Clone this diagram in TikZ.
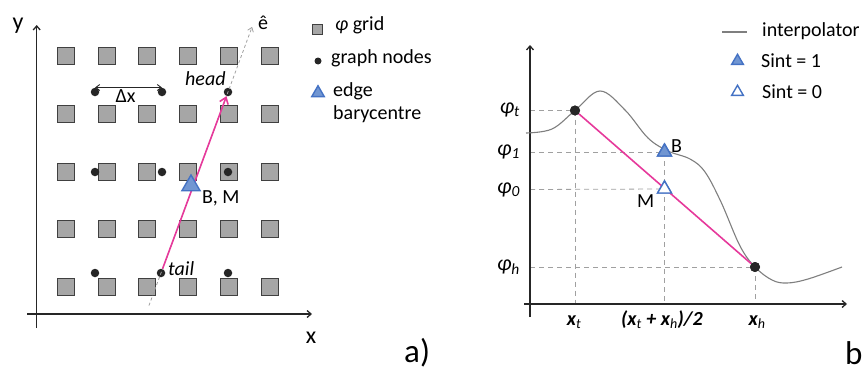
\documentclass[tikz,border=0pt]{standalone}
\usepackage{fontspec}
\setmainfont{Carlito}
\usetikzlibrary{shapes.geometric,arrows.meta,calc}
\definecolor{gridfill}{HTML}{A6A6A6}
\definecolor{gridedge}{HTML}{404040}
\definecolor{dotc}{HTML}{262626}
\definecolor{mag}{HTML}{E6399B}
\definecolor{trifill}{HTML}{7196D2}
\definecolor{triedge}{HTML}{4472C4}
\definecolor{guide}{HTML}{A0A0A0}
\definecolor{curvec}{HTML}{7F7F7F}
\tikzset{
  gsq/.style={draw=gridedge, fill=gridfill, line width=0.9pt, minimum size=17.5pt, inner sep=0pt},
  gdot/.style={circle, fill=dotc, minimum size=8.5pt, inner sep=0pt},
  bdot/.style={circle, fill=dotc, minimum size=10pt, inner sep=0pt},
  tri/.style={regular polygon, regular polygon sides=3, draw=triedge, line width=1.4pt, inner sep=0pt},
  trifull/.style={tri, fill=trifill},
  triopen/.style={tri, fill=white},
  axisline/.style={draw=dotc, line width=1.3pt, -{Straight Barb[length=4pt,width=7pt]}},
  lbl/.style={font=\fontsize{20}{24}\selectfont, inner sep=0pt, text=black},
  philbl/.style={font=\fontsize{22}{26}\selectfont\itshape, inner sep=0pt, anchor=east},
  xlbl/.style={font=\fontsize{20}{24}\selectfont\bfseries\itshape, inner sep=0pt, anchor=base},
  biglbl/.style={font=\fontsize{33}{38}\selectfont, inner sep=0pt, anchor=base west},
  guideline/.style={draw=guide, line width=0.8pt, dash pattern=on 5pt off 4pt},
  magline/.style={draw=mag, line width=1.6pt},
}
\begin{document}
\begin{tikzpicture}[x=1pt,y=-1pt]
\useasboundingbox (0,0) rectangle (866,372);
% ---------------- panel a ----------------
\coordinate (ax0) at (27,314);
\coordinate (ax1) at (312,314);
\coordinate (ay0) at (36.7,328);
\coordinate (ay1) at (36.7,25);
\draw[axisline] (ax0) -- (ax1);
\draw[axisline] (ay0) -- (ay1);
\node[lbl, font=\fontsize{24}{28}\selectfont, anchor=base] (ylab) at (18,29) {y};
\node[lbl, font=\fontsize{24}{28}\selectfont, anchor=base] (xlab) at (311,343) {x};
\node[biglbl] (alab) at (404,362) {a)};
% grid
\foreach \c [count=\i] in {66,107,147,188,229,270}
  \foreach \r [count=\j] in {56,114,172,229,287}
    \node[gsq] (g\i\j) at (\c,\r) {};
% graph nodes
\node[gdot] (n1) at (95,92) {};
\node[gdot] (n2) at (162,92) {};
\node[gdot] (head) at (228,92) {};
\node[gdot] (n4) at (95,172) {};
\node[gdot] (n5) at (162,172) {};
\node[gdot] (n6) at (228,172) {};
\node[gdot] (n7) at (95,273) {};
\node[gdot] (tail) at (161,273) {};
\node[gdot] (n9) at (228,273) {};
% e-hat direction
\coordinate (e0) at ($(tail)!-0.18!(head)$);
\coordinate (e1) at ($(tail)!1.36!(head)$);
\draw[guide, line width=0.8pt, dash pattern=on 3pt off 2.5pt, -{Straight Barb[length=4pt,width=6pt]}] (e0) -- (e1);
\node[lbl, anchor=base] (ehat) at (263,29) {ê};
% edge
\draw[magline, -{Straight Barb[length=6pt,width=9pt]}] (tail) -- (head);
\node[trifull, minimum size=21pt] (BMa) at (191,185.5) {};
\node[lbl, anchor=base west] (BMlab) at (202,203) {B, M};
\node[lbl, anchor=base west, font=\fontsize{20}{24}\selectfont\itshape] (headlab) at (185,85) {head};
\node[lbl, anchor=base west, font=\fontsize{20}{24}\selectfont\itshape] (taillab) at (168,275) {tail};
% delta x
\draw[dotc, line width=0.9pt, {Straight Barb[length=4pt,width=6pt]}-{Straight Barb[length=4pt,width=6pt]}] (n1.north) -- (n2.north);
\node[lbl, anchor=base] (dxlab) at (125.5,102) {Δx};
% legend a
\node[gsq, minimum size=10pt, line width=0.7pt] (lgsq) at (317.5,29) {};
\node[lbl, anchor=base west] (lgtxt) at (335,30) {\textit{φ} grid};
\node[gdot, minimum size=7pt] (lgdot) at (318,61) {};
\node[lbl, anchor=base west] (lgntxt) at (331,63) {graph nodes};
\node[trifull, minimum size=14.5pt] (lgtri) at (318,93) {};
\node[lbl, anchor=base west] (lgetxt) at (333,96) {edge};
\node[lbl, anchor=base west] (lgbtxt) at (333,119) {barycentre};
% ---------------- panel b ----------------
\coordinate (bx0) at (524,304);
\coordinate (bx1) at (847,304);
\coordinate (by0) at (530,317);
\coordinate (by1) at (530,45);
\node[bdot] (btail) at (575,110.5) {};
\node[bdot] (bhead) at (755,267) {};
\node[trifull, minimum size=16pt] (Bb) at (664.5,152) {};
\node[triopen, minimum size=16pt] (Mb) at (664.5,189) {};
\coordinate (yt) at (530,110.5);
\coordinate (y1) at (530,152);
\coordinate (y0) at (530,189.5);
\coordinate (yh) at (530,267);
\coordinate (xt) at (575,304);
\coordinate (xm) at (664.5,304);
\coordinate (xh) at (755,304);
\draw[guideline] (yt) -- (btail.center);
\draw[guideline] (y1) -- (Bb.center);
\draw[guideline] (y0) -- (Mb.center);
\draw[guideline] (yh) -- (bhead.center);
\draw[guideline] (btail.center) -- (xt);
\draw[guideline] (Bb.center) -- (xm);
\draw[guideline] (bhead.center) -- (xh);
\draw[axisline] (bx0) -- (bx1);
\draw[axisline] (by0) -- (by1);
% interpolator curve
\draw[curvec, line width=1.1pt] plot[smooth, tension=0.6] coordinates {
 (526,133) (552,129) (575,110.5) (600,91) (625,110) (648,138) (668,151)
 (690,159) (705,172) (721,202) (740,246) (755,267) (772,280) (787,283)
 (808,279) (842,267)};
\draw[magline] (btail) -- (bhead);
\node[bdot] (btail2) at (575,110.5) {};
\node[bdot] (bhead2) at (755,267) {};
\node[trifull, minimum size=16pt] (Bb2) at (664.5,152) {};
\node[triopen, minimum size=16pt] (Mb2) at (664.5,189) {};
\node[lbl, anchor=base west] (Blab) at (671,152) {B};
\node[lbl, anchor=base west] (Mlab) at (637,207) {M};
% phi labels
\node[philbl] (phit) at (520,110) {φ\textsubscript{t}};
\node[philbl] (phi1) at (520,152) {φ\textsubscript{1}};
\node[philbl] (phi0) at (520,190) {φ\textsubscript{0}};
\node[philbl] (phih) at (520,267) {φ\textsubscript{h}};
% x labels
\node[xlbl] (xtl) at (574,325) {x\textsubscript{\mdseries t}};
\node[xlbl] (xml) at (662,325) {(x\textsubscript{\mdseries t} + x\textsubscript{\mdseries h})/2};
\node[xlbl] (xhl) at (757,325) {x\textsubscript{\mdseries h}};
\node[biglbl] (blab) at (845,364) {b};
% legend b
\coordinate (li0) at (722,32);
\coordinate (li1) at (747,32);
\draw[curvec, line width=1.3pt] (li0) -- (li1);
\node[lbl, anchor=base west] (litxt) at (762,36) {interpolator};
\node[trifull, minimum size=13.5pt] (l1tri) at (737.5,61) {};
\node[lbl, anchor=base west] (l1txt) at (761,67) {Sint = 1};
\node[triopen, minimum size=13.5pt] (l0tri) at (737.5,92) {};
\node[lbl, anchor=base west] (l0txt) at (762,98) {Sint = 0};
\end{tikzpicture}
\end{document}
